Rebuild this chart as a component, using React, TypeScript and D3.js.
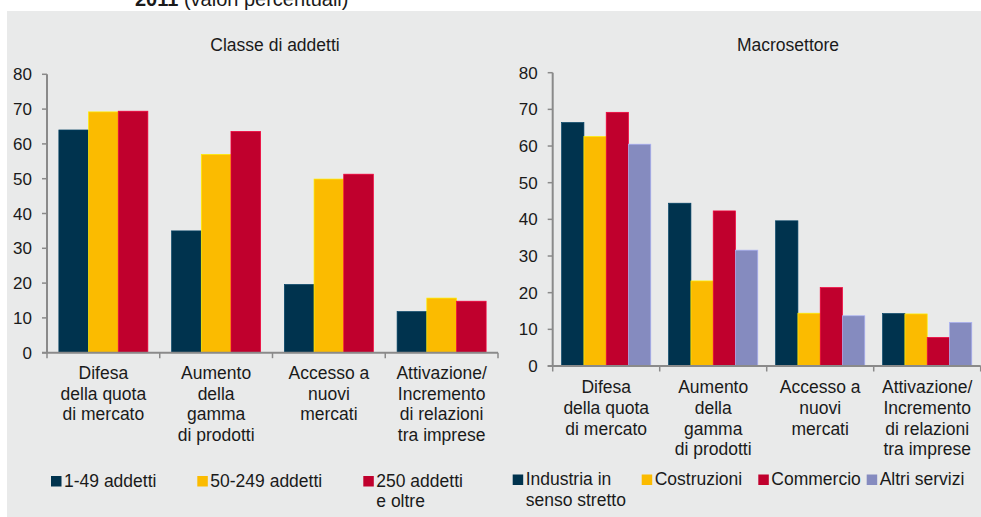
import React from "react";
import * as d3 from "d3";

// ---------- DATA ----------
const categories = ["Difesa della quota di mercato", "Aumento della gamma di prodotti", "Accesso a nuovi mercati", "Attivazione/Incremento di relazioni tra imprese"];
const categoryLines = [
  ["Difesa", "della quota", "di mercato"],
  ["Aumento", "della", "gamma", "di prodotti"],
  ["Accesso a", "nuovi", "mercati"],
  ["Attivazione/", "Incremento", "di relazioni", "tra imprese"],
];

const sizeSeries = ["1-49 addetti", "50-249 addetti", "250 addetti e oltre"];
const sizeLegendLines = [["1-49 addetti"], ["50-249 addetti"], ["250 addetti", "e oltre"]];
const size_1_49 = [64.0, 35.0, 19.6, 11.8];
const size_50_249 = [69.2, 57.0, 49.9, 15.7];
const size_250 = [69.4, 63.6, 51.3, 14.8];

const sectorSeries = ["Industria in senso stretto", "Costruzioni", "Commercio", "Altri servizi"];
const sectorLegendLines = [["Industria in", "senso stretto"], ["Costruzioni"], ["Commercio"], ["Altri servizi"]];
const industria = [66.4, 44.4, 39.6, 14.3];
const costruzioni = [62.6, 23.2, 14.4, 14.2];
const commercio = [69.2, 42.3, 21.4, 7.8];
const altriServizi = [60.5, 31.6, 13.7, 11.9];

const yTicks = [0, 10, 20, 30, 40, 50, 60, 70, 80];

const leftTitle = "Classe di addetti";
const rightTitle = "Macrosettore";

// ---------- STYLE ----------
const FONT = "'Liberation Sans', Arial, Helvetica, sans-serif";
const TEXT = "#1a1a1a";
const AXIS = "#8a8a8a";
const BG = "#e9eaea";
const colors3 = ["#00334e", "#fbbb00", "#c0002d"];
const colors4 = ["#00334e", "#fbbb00", "#c0002d", "#858bbf"];
const FS = 17.5;
const TFS = 17;
const LH = 20.6;

type PanelProps = {
  series: string[];
  values: number[][];
  colors: string[];
  xRange: [number, number];
  yRange: [number, number];
  title: string;
  titleX: number;
  labelBaseline: number;
};

function Panel({ series, values, colors, xRange, yRange, title, titleX, labelBaseline }: PanelProps) {
  const x0 = d3.scaleBand<string>().domain(categories).range(xRange).padding(0);
  const x1 = d3.scaleBand<string>().domain(series).range([0, x0.bandwidth()]).paddingInner(0).paddingOuter(0.4);
  const y = d3.scaleLinear().domain([0, 80]).range(yRange);
  const axisX = xRange[0];
  const boundaries = categories.map((c) => x0(c) as number).concat([xRange[1]]);
  return (
    <g>
      <text x={titleX} y={50.7} textAnchor="middle" fontSize={FS} fill={TEXT}>{title}</text>
      {series.map((s, si) =>
        values[si].map((v, ci) => {
          const bx = (x0(categories[ci]) as number) + (x1(s) as number);
          const by = y(v);
          return (
            <rect key={s + ci} x={bx} y={by} width={x1.bandwidth()} height={y(0) - by}
              fill={colors[si]} stroke={d3.color(colors[si])!.brighter(0.7).formatHex()} strokeWidth={0.7} />
          );
        })
      )}
      {/* y axis */}
      <line x1={axisX} x2={axisX} y1={y(80)} y2={y(0)} stroke={AXIS} strokeWidth={2} />
      {yTicks.map((t) => (
        <g key={t}>
          <line x1={axisX - 5} x2={axisX} y1={y(t)} y2={y(t)} stroke={AXIS} strokeWidth={1.5} />
          <text x={axisX - 15} y={y(t)} dy="0.36em" textAnchor="end" fontSize={TFS} fill={TEXT}>{t}</text>
        </g>
      ))}
      {/* x axis */}
      <line x1={axisX - 5} x2={xRange[1]} y1={y(0)} y2={y(0)} stroke={AXIS} strokeWidth={2} />
      {boundaries.map((b, i) => (
        <line key={i} x1={b} x2={b} y1={y(0)} y2={y(0) + 5.5} stroke={AXIS} strokeWidth={1.5} />
      ))}
      {categories.map((c, ci) => (
        <text key={c} x={(x0(c) as number) + x0.bandwidth() / 2} y={labelBaseline} textAnchor="middle" fontSize={FS} fill={TEXT}>
          {categoryLines[ci].map((l, li) => (
            <tspan key={li} x={(x0(c) as number) + x0.bandwidth() / 2} y={labelBaseline + li * LH}>{l}</tspan>
          ))}
        </text>
      ))}
    </g>
  );
}

function Legend({ lines, colors, xs, squareY, baseline }: { lines: string[][]; colors: string[]; xs: number[]; squareY: number; baseline: number }) {
  return (
    <g>
      {lines.map((ls, i) => (
        <g key={i}>
          <rect x={xs[i]} y={squareY} width={10.5} height={10.5} fill={colors[i]} />
          <text fontSize={FS} fill={TEXT}>
            {ls.map((l, li) => (
              <tspan key={li} x={xs[i] + 13} y={baseline + li * 20.5}>{l}</tspan>
            ))}
          </text>
        </g>
      ))}
    </g>
  );
}

export default function App() {
  return (
    <svg width={981} height={517} style={{ position: "absolute", left: 0, top: 0, fontFamily: FONT }}>
      <rect x={0} y={0} width={981} height={517} fill="#ffffff" />
      <rect x={7} y={11} width={974} height={506} fill={BG} />
      <text x={135} y={5.5} fontSize={20} fill={TEXT}>
        <tspan fontWeight="bold">2011</tspan>
        <tspan> (valori percentuali)</tspan>
      </text>
      <Panel series={sizeSeries} values={[size_1_49, size_50_249, size_250]} colors={colors3}
        xRange={[47, 498]} yRange={[352.7, 74.3]} title={leftTitle} titleX={275} labelBaseline={379} />
      <Panel series={sectorSeries} values={[industria, costruzioni, commercio, altriServizi]} colors={colors4}
        xRange={[552.7, 980.7]} yRange={[366, 72.7]} title={rightTitle} titleX={788} labelBaseline={393.3} />
      <Legend lines={sizeLegendLines} colors={colors3} xs={[51, 197.3, 363.3]} squareY={476} baseline={486.7} />
      <Legend lines={sectorLegendLines} colors={colors4} xs={[512.7, 641.7, 758.3, 866.7]} squareY={474.5} baseline={485.3} />
    </svg>
  );
}
